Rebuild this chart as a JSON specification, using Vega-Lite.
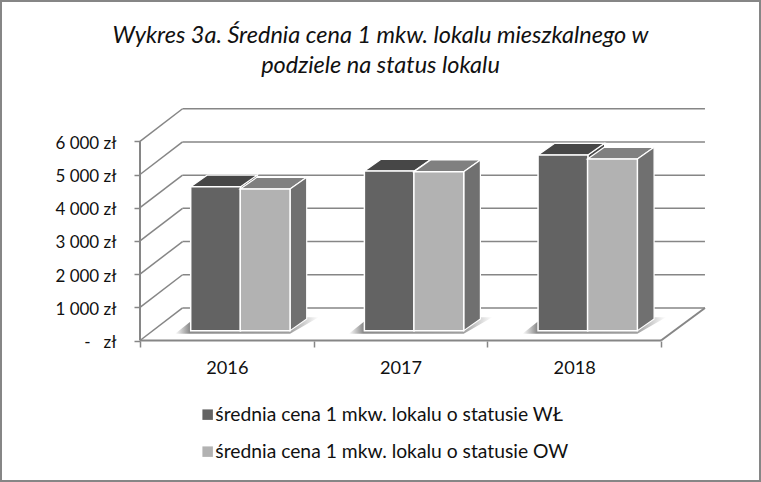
{
"$schema":"https://vega.github.io/schema/vega-lite/v6.json",
"width":761,"height":482,"autosize":"none","padding":0,"background":"white",
"view":{"stroke":"#868686","strokeWidth":4,"fill":"white"},
"title":{"text":["Wykres 3a. Średnia cena 1 mkw. lokalu mieszkalnego w","podziele na status lokalu"],"font":"Lato","fontStyle":"italic","fontWeight":"normal","fontSize":23.5,"lineHeight":30,"color":"#111111","anchor":"middle","frame":"group","baseline":"middle","dy":89,"offset":0},
"datasets":{
"slupki":[
{"rok":"2016","status":"średnia cena 1 mkw. lokalu o statusie WŁ","wartosc":4337},
{"rok":"2016","status":"średnia cena 1 mkw. lokalu o statusie OW","wartosc":4268},
{"rok":"2017","status":"średnia cena 1 mkw. lokalu o statusie WŁ","wartosc":4810},
{"rok":"2017","status":"średnia cena 1 mkw. lokalu o statusie OW","wartosc":4790},
{"rok":"2018","status":"średnia cena 1 mkw. lokalu o statusie WŁ","wartosc":5292},
{"rok":"2018","status":"średnia cena 1 mkw. lokalu o statusie OW","wartosc":5172}],
"poziomy":[{"poziom":0},{"poziom":1000},{"poziom":2000},{"poziom":3000},{"poziom":4000},{"poziom":5000},{"poziom":6000}]
},
"encoding":{
"x":{"field":"x","type":"quantitative","title":null,"scale":{"domain":[-0.8061,3.5757],"nice":false,"zero":false},
"axis":{"orient":"bottom","offset":-141,"values":[0,0.5,1,1.5,2,2.5,3],"grid":false,"domain":false,"tickSize":6,"tickWidth":1.5,"tickColor":"#868686","tickOpacity":{"condition":{"test":"datum.value%1!=0","value":0},"value":1},"labelExpr":"datum.value==0.5?'2016':datum.value==1.5?'2017':datum.value==2.5?'2018':''","labelFont":"Lato","labelFontSize":18.2,"labelColor":"#111111","labelPadding":12,"labelOverlap":false,"labelFlush":false}},
"y":{"field":"y","type":"quantitative","title":null,"stack":null,"scale":{"domain":[-4262,10256],"nice":false,"zero":false},
"axis":{"orient":"left","offset":-140,"values":[0,1000,2000,3000,4000,5000,6000],"grid":false,"domain":false,"tickSize":6,"tickWidth":1.5,"tickColor":"#868686","labelExpr":"datum.value==0?'-\u00a0\u00a0\u00a0zł':floor(datum.value/1000)+'\u00a0000\u00a0zł'","labelFont":"Lato","labelFontSize":17,"labelColor":"#111111","labelPadding":18,"labelOffset":2,"labelOverlap":false,"labelFlush":false}}
},
"layer":[
{"data":{"name":"poziomy"},"transform":[{"calculate":"0","as":"x"},{"calculate":"0.245","as":"x2"},{"calculate":"datum.poziom","as":"y"},{"calculate":"datum.poziom+980","as":"y2"}],
 "mark":{"type":"rule","color":"#868686","strokeWidth":1.5},"encoding":{"x2":{"field":"x2"},"y2":{"field":"y2"}}},
{"data":{"name":"poziomy"},"transform":[{"calculate":"0.245","as":"x"},{"calculate":"3.253","as":"x2"},{"calculate":"datum.poziom+980","as":"y"},{"calculate":"datum.poziom+980","as":"y2"}],
 "mark":{"type":"rule","color":"#868686","strokeWidth":1.5},"encoding":{"x2":{"field":"x2"},"y2":{"field":"y2"}}},
{"data":{"values":[{"x":0,"x2":0,"y":0,"y2":6000},{"x":0,"x2":3,"y":0,"y2":0},{"x":3,"x2":3.253,"y":0,"y2":980}]},
 "mark":{"type":"rule","color":"#868686","strokeWidth":2},"encoding":{"x2":{"field":"x2"},"y2":{"field":"y2"}}},
{"data":{"name":"slupki"},
 "transform":[
  {"calculate":"+datum.rok-2016","as":"i"},
  {"calculate":"indexof(datum.status,'WŁ')>=0?0:1","as":"j"},
  {"calculate":"datum.i+0.292+datum.j*0.285","as":"x0"},
  {"calculate":"datum.x0+0.287","as":"x1"},
  {"calculate":"[0,1]","as":"t"},{"flatten":["t"]}],
 "layer":[
  {"transform":[{"filter":"datum.j==0"},{"calculate":"datum.x0-0.09+datum.t*0.12","as":"x"},{"calculate":"datum.x0+0.572+datum.t*0.165","as":"x2"},{"calculate":"200+datum.t*500","as":"y"}],
   "mark":{"type":"area","orient":"horizontal","color":{"gradient":"linear","x1":0,"y1":0,"x2":1,"y2":0,"stops":[{"offset":0,"color":"#ffffff"},{"offset":0.1,"color":"#8c8c8c"},{"offset":0.8,"color":"#a0a0a0"},{"offset":1,"color":"#ffffff"}]}},
   "encoding":{"x2":{"field":"x2"},"detail":{"field":"rok"}}},
  {"transform":[{"filter":"datum.j==0"},{"calculate":"datum.x1+datum.t*0.096","as":"x"},{"calculate":"datum.wartosc+295+datum.t*352","as":"y"},{"calculate":"295+datum.t*352","as":"y2"}],
   "mark":{"type":"area","color":"#4a4a4a","stroke":"white","strokeWidth":1.2},"encoding":{"y2":{"field":"y2"},"detail":{"field":"rok"}}},
  {"transform":[{"filter":"datum.j==0"},{"calculate":"datum.x0+datum.t*0.096","as":"x"},{"calculate":"datum.x1+datum.t*0.096","as":"x2"},{"calculate":"datum.wartosc+295+datum.t*352","as":"y"}],
   "mark":{"type":"area","orient":"horizontal","color":"#474747","stroke":"white","strokeWidth":1.2},"encoding":{"x2":{"field":"x2"},"detail":{"field":"rok"}}},
  {"transform":[{"filter":"datum.j==0 && datum.t==0"},{"calculate":"datum.x0","as":"x"},{"calculate":"datum.x1","as":"x2"},{"calculate":"datum.wartosc+295","as":"y"},{"calculate":"295","as":"y2"}],
   "mark":{"type":"rect","stroke":"white","strokeWidth":1.5},"encoding":{"x2":{"field":"x2"},"y2":{"field":"y2"},"color":{"field":"status","type":"nominal","title":null,"scale":{"domain":["średnia cena 1 mkw. lokalu o statusie WŁ","średnia cena 1 mkw. lokalu o statusie OW"],"range":["#636363","#b2b2b2"]},"legend":{"orient":"none","legendX":198,"legendY":405,"symbolType":"square","symbolSize":110,"symbolStrokeWidth":0,"labelFont":"Lato","labelFontSize":19.3,"labelColor":"#111111","labelLimit":500,"rowPadding":17,"labelOffset":-2}}}},
  {"transform":[{"filter":"datum.j==1"},{"calculate":"datum.x0+datum.t*0.096","as":"x"},{"calculate":"datum.x1+datum.t*0.096","as":"x2"},{"calculate":"datum.wartosc+295+datum.t*352","as":"y"}],
   "mark":{"type":"area","orient":"horizontal","color":"#808080","stroke":"white","strokeWidth":1.2},"encoding":{"x2":{"field":"x2"},"detail":{"field":"rok"}}},
  {"transform":[{"filter":"datum.j==1"},{"calculate":"datum.x1+datum.t*0.096","as":"x"},{"calculate":"datum.wartosc+295+datum.t*352","as":"y"},{"calculate":"295+datum.t*352","as":"y2"}],
   "mark":{"type":"area","color":"#707070","stroke":"white","strokeWidth":1.2},"encoding":{"y2":{"field":"y2"},"detail":{"field":"rok"}}},
  {"transform":[{"filter":"datum.j==1 && datum.t==0"},{"calculate":"datum.x0","as":"x"},{"calculate":"datum.x1","as":"x2"},{"calculate":"datum.wartosc+295","as":"y"},{"calculate":"295","as":"y2"}],
   "mark":{"type":"rect","stroke":"white","strokeWidth":1.5},"encoding":{"x2":{"field":"x2"},"y2":{"field":"y2"},"color":{"field":"status","type":"nominal"}}}
 ]}
],
"config":{"style":{"cell":{"stroke":"#868686","strokeWidth":4}}}
}
